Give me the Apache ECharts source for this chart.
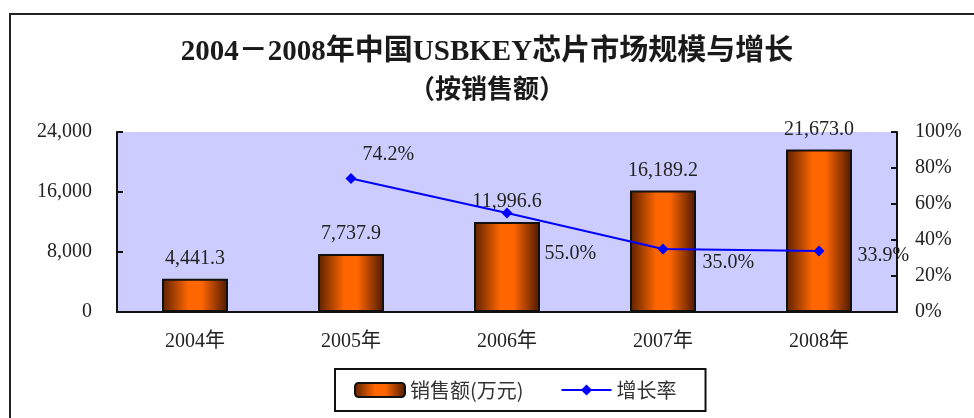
<!DOCTYPE html>
<html>
<head>
<meta charset="utf-8">
<title>2004-2008年中国USBKEY芯片市场规模与增长</title>
<script src="https://cdn.jsdelivr.net/npm/echarts@6/dist/echarts.min.js"></script>
<style>
    html, body { margin: 0; padding: 0; background: #fff; }
    #mainChart { width: 974px; height: 418px; }
</style>
</head>
<body>
<div id="mainChart"></div>
<script>
var years = ['2004年', '2005年', '2006年', '2007年', '2008年'];
var sales = [4441.3, 7737.9, 11996.6, 16189.2, 21673.0];
var growth = [null, 74.2, 55.0, 35.0, 33.9];
// offset of each growth label from its point
var growthLabelOffset = [null, [6, -24], [32, 41], [34, 14], [33, 5]];

var serifFont = "'Liberation Serif', 'Noto Sans CJK SC', serif";
var cjkFont = "'Noto Sans CJK SC', sans-serif";
var option;
var summaryChart;

function initSummaryChart() {
    var growthData = [];
    for (var i = 0; i < growth.length; i++) {
        if (growth[i] === null) {
            growthData.push(null);
        } else {
            growthData.push({
                value: growth[i],
                label: { offset: growthLabelOffset[i] }
            });
        }
    }
    option = {
        animation: false,
        title: {
            text: '2004－2008年中国USBKEY芯片市场规模与增长',
            subtext: '（按销售额）',
            left: 'center',
            top: 33,
            itemGap: 8,
            textStyle: { fontFamily: serifFont, fontSize: 29, fontWeight: 'bold', color: '#1a1a1a' },
            subtextStyle: { fontFamily: cjkFont, fontSize: 26, fontWeight: 'bold', color: '#1a1a1a' }
        },
        graphic: [{
            type: 'rect',
            shape: { x: 10, y: 14, width: 1000, height: 500 },
            style: { fill: null, stroke: '#222', lineWidth: 2 },
            silent: true
        }],
        legend: {
            data: ['销售额(万元)', '增长率'],
            left: 335,
            top: 369,
            padding: [11, 29, 11, 19],
            borderColor: '#111',
            borderWidth: 2,
            itemWidth: 50,
            itemHeight: 14,
            itemGap: 37,
            formatter: function (name) {
                return name === '增长率' ? '{b|' + name + '}' : '{a|' + name + '}';
            },
            textStyle: {
                fontFamily: cjkFont, fontSize: 20, color: '#333',
                rich: {
                    a: { width: 125, fontFamily: cjkFont, fontSize: 20, color: '#333' },
                    b: { width: 60, fontFamily: cjkFont, fontSize: 20, color: '#333' }
                }
            }
        },
        grid: {
            left: 117, right: 77, top: 132, bottom: 106,
            show: true, backgroundColor: '#ccccff', borderWidth: 0
        },
        xAxis: [{
            type: 'category',
            data: years,
            axisLine: { lineStyle: { color: '#111', width: 2 } },
            axisTick: { inside: true, length: 8, lineStyle: { color: '#111', width: 2 } },
            axisLabel: { margin: 20, fontFamily: serifFont, fontSize: 20, color: '#222' }
        }],
        yAxis: [{
            type: 'value',
            min: 0, max: 24000, interval: 8000,
            axisLine: { show: true, lineStyle: { color: '#111', width: 2 } },
            axisTick: { show: true, inside: true, length: 6, lineStyle: { color: '#111', width: 2 } },
            splitLine: { show: false },
            axisLabel: {
                margin: 25, fontFamily: serifFont, fontSize: 20, color: '#222',
                formatter: function (v) { return v.toLocaleString('en-US'); }
            }
        }, {
            type: 'value',
            min: 0, max: 100, interval: 20,
            axisLine: { show: true, lineStyle: { color: '#111', width: 2 } },
            axisTick: { show: true, inside: true, length: 6, lineStyle: { color: '#111', width: 2 } },
            splitLine: { show: false },
            axisLabel: { margin: 18, fontFamily: serifFont, fontSize: 20, color: '#222', formatter: '{value}%' }
        }],
        series: [{
            name: '销售额(万元)',
            type: 'bar',
            data: sales,
            barWidth: 66,
            itemStyle: {
                color: new echarts.graphic.LinearGradient(0, 0, 1, 0, [
                    { offset: 0, color: '#5c2000' },
                    { offset: 0.4, color: '#ff6600' },
                    { offset: 0.6, color: '#ff6600' },
                    { offset: 1, color: '#4a1800' }
                ]),
                borderColor: '#111',
                borderWidth: 2
            },
            label: {
                show: true, position: 'top', distance: 10,
                fontFamily: serifFont, fontSize: 20, color: '#222',
                formatter: function (p) {
                    return p.value.toLocaleString('en-US', { minimumFractionDigits: 1, maximumFractionDigits: 1 });
                }
            }
        }, {
            name: '增长率',
            type: 'line',
            yAxisIndex: 1,
            data: growthData,
            symbol: 'diamond',
            symbolSize: 11,
            itemStyle: { color: '#0000ff' },
            lineStyle: { color: '#0000ff', width: 2 },
            label: {
                show: true, position: 'right', distance: 0,
                fontFamily: serifFont, fontSize: 20, color: '#222',
                formatter: function (p) { return p.value.toFixed(1) + '%'; }
            }
        }]
    };
}

initSummaryChart();
summaryChart = echarts.init(document.getElementById('mainChart'));
summaryChart.setOption(option);
</script>
</body>
</html>
